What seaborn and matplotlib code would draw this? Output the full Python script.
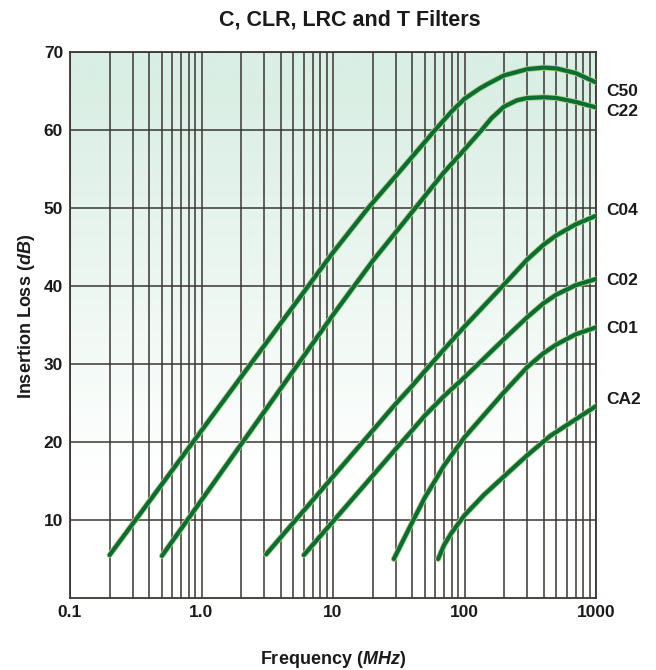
import numpy as np
import pandas as pd
import matplotlib
matplotlib.use("Agg")
import matplotlib.pyplot as plt
import matplotlib.patheffects as pe
from matplotlib.ticker import FixedLocator, NullFormatter
import seaborn as sns

# ---- data ----
c50_x = [0.2, 10, 18.5, 30, 59.7, 80, 100, 130, 150, 200, 300, 400, 500, 700, 1000]
c50_y = [5.5, 44.3, 50.0, 54.1, 60.0, 62.4, 64.0, 65.3, 65.9, 67.0, 67.8, 68.0, 67.9, 67.3, 66.1]

c22_x = [0.5, 10, 20, 40, 70, 100, 135, 160, 200, 250, 300, 400, 500, 700, 1000]
c22_y = [5.4, 36.3, 43.2, 49.5, 54.6, 57.5, 60.0, 61.5, 63.0, 63.8, 64.1, 64.2, 64.1, 63.6, 62.9]

c04_x = [3.1, 30, 40, 50, 70, 100, 200, 300, 400, 500, 700, 1000]
c04_y = [5.6, 24.9, 27.2, 29.1, 31.9, 34.8, 40.2, 43.4, 45.3, 46.5, 47.9, 49.0]

c02_x = [6, 30, 40, 50, 70, 100, 200, 300, 400, 500, 700, 1000]
c02_y = [5.5, 19.1, 21.5, 23.4, 25.9, 28.3, 33.2, 36.0, 37.8, 38.9, 40.1, 40.9]

c01_x = [29, 40, 50, 60, 70, 100, 200, 300, 400, 500, 700, 1000]
c01_y = [5.0, 9.7, 12.9, 15.1, 17.0, 20.6, 26.4, 29.6, 31.4, 32.5, 33.8, 34.7]

ca2_x = [63, 70, 80, 100, 140, 200, 300, 450, 700, 1000]
ca2_y = [5.0, 6.8, 8.4, 10.6, 13.2, 15.6, 18.3, 20.8, 22.9, 24.6]

series_names = ["C50", "C22", "C04", "C02", "C01", "CA2"]
label_y = [65.0, 62.4, 49.7, 40.7, 34.6, 25.5]

x_ticks = [0.1, 1, 10, 100, 1000]
x_tick_labels = ["0.1", "1.0", "10", "100", "1000"]
y_ticks = [10, 20, 30, 40, 50, 60, 70]

all_x = [c50_x, c22_x, c04_x, c02_x, c01_x, ca2_x]
all_y = [c50_y, c22_y, c04_y, c02_y, c01_y, ca2_y]

df = pd.concat(
    [pd.DataFrame({"freq": xs, "loss": ys, "filter": name})
     for name, xs, ys in zip(series_names, all_x, all_y)],
    ignore_index=True,
)

# ---- style ----
sns.set_theme(style="white")
plt.rcParams["font.family"] = ["Liberation Sans", "DejaVu Sans"]
plt.rcParams["font.weight"] = "bold"
plt.rcParams["mathtext.fontset"] = "custom"
plt.rcParams["mathtext.rm"] = "Liberation Sans:bold"
plt.rcParams["mathtext.it"] = "Liberation Sans:italic:bold"
plt.rcParams["mathtext.bf"] = "Liberation Sans:bold"

fig = plt.figure(figsize=(6.56, 6.70), dpi=100)
ax = fig.add_axes([70 / 656, 1 - 598 / 670, (596 - 70) / 656, (598 - 52) / 670])

# background gradient (light green top -> white bottom)
top = np.array([217, 238, 228]) / 255.0
frac = np.linspace(0, 1, 256)  # 0 bottom, 1 top
w = np.clip((frac - 0.22) / (0.95 - 0.22), 0, 1)
grad = (1 - w)[:, None] * np.ones(3)[None, :] + w[:, None] * top[None, :]
ax.imshow(grad[:, None, :], extent=[0, 1, 0, 1], transform=ax.transAxes,
          origin="lower", aspect="auto", zorder=0, interpolation="bilinear")

line_color = "#0c6d34"
sns.lineplot(data=df, x="freq", y="loss", hue="filter", units="filter",
             estimator=None, palette=[line_color] * len(series_names),
             legend=False, ax=ax, linewidth=3.0, zorder=5, sort=True)
for ln in ax.get_lines():
    ln.set_solid_capstyle("round")
    ln.set_solid_joinstyle("round")
    ln.set_path_effects([pe.Stroke(linewidth=4.2, foreground="#a9cf7a"), pe.Normal()])

ax.set_xscale("log")
ax.set_xlim(0.1, 1000)
ax.set_ylim(0, 70)

ax.xaxis.set_major_locator(FixedLocator(x_ticks))
ax.set_xticklabels(x_tick_labels)
minor = [m * 10.0 ** e for e in range(-1, 3) for m in range(2, 10)]
ax.xaxis.set_minor_locator(FixedLocator(minor))
ax.xaxis.set_minor_formatter(NullFormatter())
ax.set_yticks(y_ticks)

grid_color = "#3b3633"
ax.grid(True, which="major", axis="both", color=grid_color, linewidth=1.1, zorder=2)
ax.grid(True, which="minor", axis="x", color=grid_color, linewidth=1.1, zorder=2)
ax.set_axisbelow(False)
for gl in ax.get_xgridlines() + ax.get_ygridlines():
    gl.set_zorder(2)
for s in ax.spines.values():
    s.set_color(grid_color)
    s.set_linewidth(1.3)
    s.set_zorder(3)

ax.tick_params(axis="both", which="both", length=0, labelsize=12.5, colors="#1a1a1a")
ax.tick_params(axis="x", pad=5)
ax.tick_params(axis="y", pad=5)
for t in ax.get_xticklabels() + ax.get_yticklabels():
    t.set_fontweight("bold")

for name, ly in zip(series_names, label_y):
    ax.text(1.02, ly, name, transform=ax.get_yaxis_transform(), ha="left",
            va="center", fontsize=12.5, fontweight="bold", color="#1a1a1a")

ax.set_xlabel(r"Frequency $\mathit{(MHz)}$", fontsize=13, fontweight="bold",
              color="#1a1a1a", va="center")
ax.xaxis.set_label_coords(0.5, (598 - 660) / 546)
ax.set_ylabel(r"Insertion Loss $\mathit{(dB)}$", fontsize=13, fontweight="bold",
              color="#1a1a1a", va="center")
ax.yaxis.set_label_coords((27 - 70) / 526, 0.515)
fig.text(350 / 656, 1 - 20 / 670, "C, CLR, LRC and T Filters", ha="center",
         va="center", fontsize=15.5, fontweight="bold", color="#1a1a1a")

fig.savefig("out.png", dpi=100, facecolor="white")
